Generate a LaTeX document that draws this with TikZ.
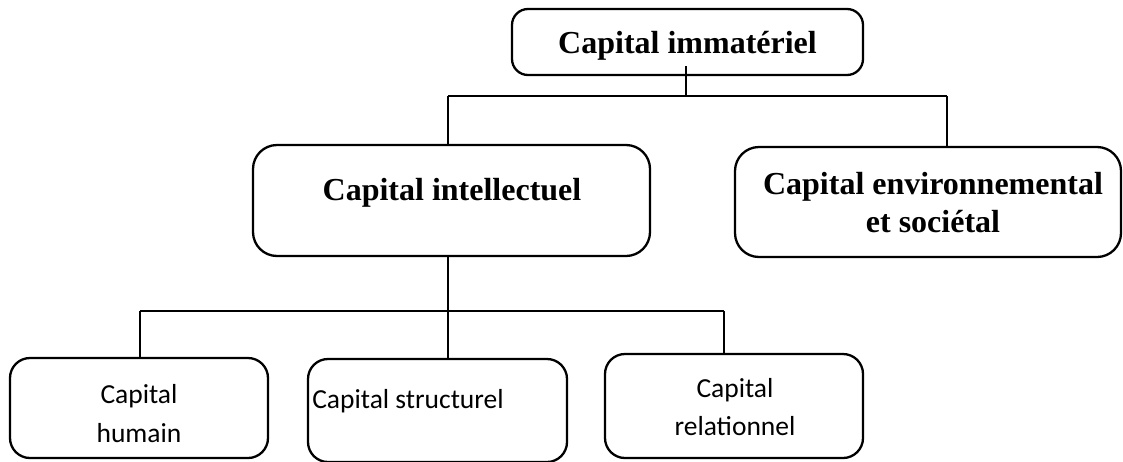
\documentclass[tikz,border=0pt]{standalone}
\usepackage{fontspec}
\setmainfont{Liberation Serif}
\newfontfamily\calib{Carlito}
\begin{document}
\begin{tikzpicture}[x=1pt,y=-1pt,
  box/.style={draw=black,line width=2.3pt,rounded corners=#1,inner sep=0pt},
  box/.default=18pt,
  bigtxt/.style={anchor=base,inner sep=0pt,font=\fontsize{32}{38}\selectfont\bfseries},
  smalltxt/.style={anchor=base,inner sep=0pt,font=\calib\fontsize{27.5}{33}\selectfont},
  conn/.style={draw=black,line width=1.3pt}]
\useasboundingbox (0,0) rectangle (1123,461);
\begin{scope}
\clip (0,0) rectangle (1123,461);
% boxes
\node[box=16pt,minimum width=351pt,minimum height=66pt] (top) at (687.5,42) {};
\node[box=24pt,minimum width=397pt,minimum height=111pt] (intel) at (451.5,200.5) {};
\node[box=24pt,minimum width=386pt,minimum height=110pt] (env) at (928,202) {};
\node[box=20pt,minimum width=258pt,minimum height=100pt] (hum) at (139,408) {};
\node[box=20pt,minimum width=259pt,minimum height=103pt] (str) at (437.5,410.5) {};
\node[box=20pt,minimum width=258pt,minimum height=104pt] (rel) at (734,406) {};
% texts
\node[bigtxt] (ttop) at (687.5,53) {Capital immatériel};
\node[bigtxt] (tint) at (452,200) {Capital intellectuel};
\node[bigtxt] (tenv1) at (933,194) {Capital environnemental};
\node[bigtxt] (tenv2) at (933,232) {et sociétal};
\node[smalltxt] (thum1) at (139,403) {Capital};
\node[smalltxt] (thum2) at (139,442) {humain};
\node[smalltxt] (tstr) at (408,408) {Capital structurel};
\node[smalltxt] (trel1) at (735,397) {Capital};
\node[smalltxt] (trel2) at (735,435) {relationnel};
% connectors level 1
\coordinate (b1l) at (448,96);
\coordinate (b1m) at (686,96);
\coordinate (b1r) at (947,96);
\draw[conn] (b1m |- top.south) ++(0,-10) -- (b1m);
\draw[conn] (b1l) -- (b1r);
\draw[conn] (b1l) -- (b1l |- intel.north);
\draw[conn] (b1r) -- (b1r |- env.north);
% connectors level 2
\coordinate (b2l) at (140,311);
\coordinate (b2m) at (448,311);
\coordinate (b2r) at (724,311);
\draw[conn] (b2m |- intel.south) -- (b2m |- str.north);
\draw[conn] (b2l) -- (b2r);
\draw[conn] (b2l) -- (b2l |- hum.north);
\draw[conn] (b2r) -- (b2r |- rel.north);
\end{scope}
\end{tikzpicture}
\end{document}
